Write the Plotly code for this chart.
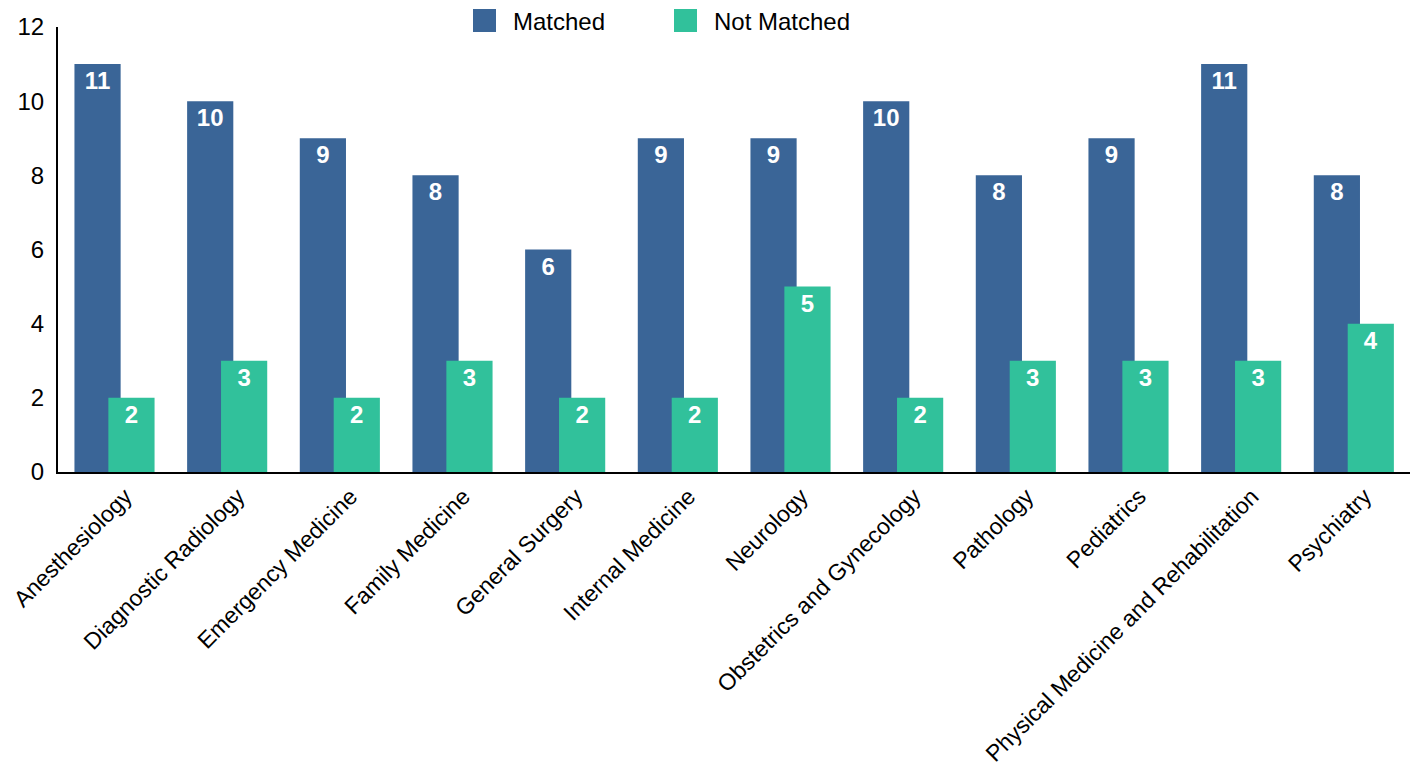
import plotly.graph_objects as go

categories = ["Anesthesiology", "Diagnostic Radiology", "Emergency Medicine", "Family Medicine",
              "General Surgery", "Internal Medicine", "Neurology", "Obstetrics and Gynecology",
              "Pathology", "Pediatrics", "Physical Medicine and Rehabilitation", "Psychiatry"]
matched = [11, 10, 9, 8, 6, 9, 9, 10, 8, 9, 11, 8]
not_matched = [2, 3, 2, 3, 2, 2, 5, 2, 3, 3, 3, 4]
series_names = ["Matched", "Not Matched"]
colors = ["#3a6597", "#31c19b"]

FONT = "Liberation Sans, Arial, sans-serif"
W, H = 1415, 777
ML, MR, MT, MB = 58, 5, 27, 305
PX0, PY0, PXW, PYH = ML, MT, W - ML - MR, H - MT - MB

fig = go.Figure()
for name, vals, col, off in [(series_names[0], matched, colors[0], -0.354),
                             (series_names[1], not_matched, colors[1], -0.053)]:
    fig.add_trace(go.Bar(
        x=categories, y=vals, name=name, marker_color=col, marker_line_width=0,
        width=0.41, offset=off, showlegend=False,
        text=[str(v) for v in vals], textposition="inside", insidetextanchor="end",
        textangle=0, constraintext="none",
        textfont=dict(family=FONT, size=24, color="white", weight="bold"),
    ))

# Custom legend (large square swatches)
def px_x(p):
    return (p - PX0) / PXW

def px_y(p):
    return (PY0 + PYH - p) / PYH

legend_items = [(series_names[0], colors[0], 473, 511), (series_names[1], colors[1], 674, 712)]
for name, col, sx, tx in legend_items:
    fig.add_shape(type="rect", xref="paper", yref="paper",
                  x0=px_x(sx), x1=px_x(sx + 23), y0=px_y(32), y1=px_y(9),
                  fillcolor=col, line_width=0)
    fig.add_annotation(text=name, xref="paper", yref="paper", x=px_x(tx), y=px_y(21),
                       xanchor="left", yanchor="middle", showarrow=False,
                       font=dict(family=FONT, size=24, color="black"))

fig.update_layout(
    barmode="overlay",
    width=W, height=H,
    margin=dict(l=ML, r=MR, t=MT, b=MB),
    plot_bgcolor="white", paper_bgcolor="white",
    font=dict(family=FONT, size=24, color="black"),
    showlegend=False,
    xaxis=dict(type="category", range=[-0.5, 11.5], tickangle=-45, showline=True,
               linecolor="black", linewidth=2, ticks="", showgrid=False,
               tickfont=dict(size=23), automargin=False, ticklabelstandoff=0,
               ticklabelshift=11),
    yaxis=dict(range=[0, 12], dtick=2, showline=True, linecolor="black", linewidth=2,
               ticks="", showgrid=False, zeroline=False, tickfont=dict(size=24),
               automargin=False, ticklabelstandoff=7),
)
fig.write_html("out.html", config={"displayModeBar": False},
               post_script="document.body.style.margin='0';")
